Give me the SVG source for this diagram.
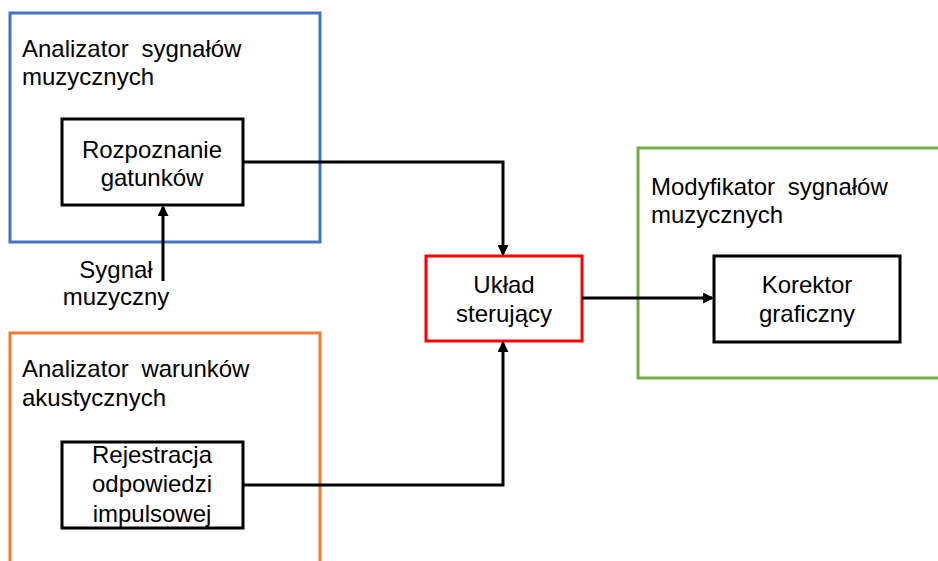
<svg xmlns="http://www.w3.org/2000/svg" width="938" height="561" viewBox="0 0 938 561">
<style>
text{font-family:"Liberation Sans",Arial,sans-serif;font-size:24px;fill:#000}
.t{word-spacing:6px}
.c{text-anchor:middle}
.box{fill:#fff;stroke:#000;stroke-width:3}
.red{stroke:#FF0000}
.grp{fill:none;stroke-width:3}
.ln{fill:none;stroke:#000;stroke-width:3}
</style>
<defs>
<marker id="ah" markerWidth="11" markerHeight="11" refX="9" refY="5.5" orient="auto" markerUnits="userSpaceOnUse" viewBox="0 0 11 11">
<path d="M0,0 L11,5.5 L0,11 z" fill="#000"/>
</marker>
</defs>
<rect width="938" height="561" fill="#fff"/>
<g id="analizator-sygnalow">
<rect class="grp" x="10" y="13" width="310" height="229" stroke="#4472C4"/>
<text class="t" x="22" y="57">Analizator sygnałów</text>
<text x="22" y="85">muzycznych</text>
</g>
<g id="analizator-warunkow">
<rect class="grp" x="10" y="333" width="310" height="240" stroke="#ED7D31"/>
<text class="t" x="22" y="377">Analizator warunków</text>
<text x="22" y="406">akustycznych</text>
</g>
<g id="modyfikator">
<rect class="grp" x="638" y="148" width="310" height="230" stroke="#70AD47"/>
<text class="t" x="651" y="195">Modyfikator sygnałów</text>
<text x="651" y="223">muzycznych</text>
</g>
<g id="rozpoznanie">
<rect class="box" x="62" y="119" width="181" height="86"/>
<text class="c" x="152" y="158">Rozpoznanie</text>
<text class="c" x="152" y="186">gatunków</text>
</g>
<g id="rejestracja">
<rect class="box" x="62" y="442" width="181" height="86"/>
<text class="c" x="152" y="463">Rejestracja</text>
<text class="c" x="152" y="492">odpowiedzi</text>
<text class="c" x="152" y="522">impulsowej</text>
</g>
<g id="uklad">
<rect class="box red" x="426" y="256" width="156" height="85"/>
<text class="c" x="504" y="293">Układ</text>
<text class="c" x="504" y="322">sterujący</text>
</g>
<g id="korektor">
<rect class="box" x="714" y="256" width="186" height="86"/>
<text class="c" x="807" y="293">Korektor</text>
<text class="c" x="807" y="322">graficzny</text>
</g>
<g id="sygnal-label">
<text class="c" x="116" y="278">Sygnał</text>
<text class="c" x="116" y="305">muzyczny</text>
</g>
<g id="connectors">
<path class="ln" d="M163,281 V207" marker-end="url(#ah)"/>
<path class="ln" d="M243,162 H503 V254" marker-end="url(#ah)"/>
<path class="ln" d="M243,485 H503 V343" marker-end="url(#ah)"/>
<path class="ln" d="M582,298 H712" marker-end="url(#ah)"/>
</g>
</svg>
